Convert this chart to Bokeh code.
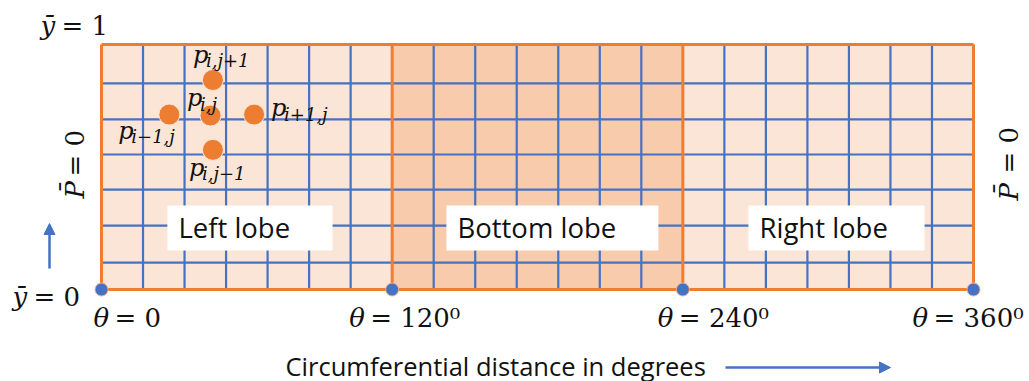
import numpy as np
from bokeh.plotting import figure
from bokeh.models import Arrow, NormalHead
from bokeh.core.properties import value
from bokeh.embed import file_html
from bokeh.resources import INLINE

# ---------------- data ----------------
lobe_names = ["Left lobe", "Bottom lobe", "Right lobe"]
lobe_start = [0, 120, 240]
lobe_end = [120, 240, 360]
cells_per_lobe = 7
row_lines = [0.11, 0.261, 0.408, 0.551, 0.694, 0.841]
theta_ticks = [0, 120, 240, 360]
theta_rest = ["= 0", "= 120\u2070", "= 240\u2070", "= 360\u2070"]
stencil_sub = ["i\u22121,j", "i,j", "i+1,j", "i,j+1", "i,j\u22121"]
stencil_theta = [28, 45, 63, 46, 46]
stencil_y = [0.714, 0.71, 0.714, 0.855, 0.57]
ybar_values = [1, 0]
axis_title = "Circumferential distance in degrees"

# ---------------- layout / styles ----------------
W, H = 1029, 381
PXX = 872 / 360.0      # px per degree
PXY = 245.0            # px per unit of y-bar
OX, OY = 101, 289      # canvas px of (theta=0, ybar=0)

def X(cx):
    return (cx - OX) / PXX

def Y(cy):
    return (OY - cy) / PXY

ORANGE = "#ED7D31"
BLUE = "#4472C4"
LIGHT = "#FBE5D6"
MID = "#F8CBAD"
INK = "#111111"
lobe_fill = [LIGHT, MID, LIGHT]
SERIF = value("DejaVu Serif")
SANS = value("Open Sans")

p = figure(width=W, height=H, output_backend="svg", toolbar_location=None,
           x_range=(X(0), X(W)), y_range=(Y(H), Y(0)),
           min_border=0, outline_line_color=None)
p.xaxis.visible = False
p.yaxis.visible = False
p.grid.visible = False
p.background_fill_color = "white"
p.border_fill_color = "white"

# lobe fills
p.quad(left=lobe_start, right=lobe_end, bottom=0, top=1, fill_color=lobe_fill, line_color=None)

# blue grid
vx = []
for s, e in zip(lobe_start, lobe_end):
    for k in range(1, cells_per_lobe):
        vx.append(s + k * (e - s) / cells_per_lobe)
p.segment(x0=vx, y0=[0] * len(vx), x1=vx, y1=[1] * len(vx), line_color=BLUE, line_width=2.2)
p.segment(x0=[0] * len(row_lines), y0=row_lines, x1=[360] * len(row_lines), y1=row_lines,
          line_color=BLUE, line_width=2.2)

# orange borders
p.segment(x0=theta_ticks, y0=[0] * 4, x1=theta_ticks, y1=[1] * 4, line_color=ORANGE, line_width=3)
p.segment(x0=[0, 0], y0=[0, 1], x1=[360, 360], y1=[0, 1], line_color=ORANGE, line_width=3)

# lobe label boxes
box_dx = [27.2, 22.4, 27.1]
box_w = [68.2, 87.5, 72.7]
bl = [s + d for s, d in zip(lobe_start, box_dx)]
br = [l + w for l, w in zip(bl, box_w)]
p.quad(left=bl, right=br, bottom=Y(250), top=Y(205), fill_color="white", line_color=None)
p.text(x=[l + 11 / PXX for l in bl], y=[Y(227)] * 3, text=lobe_names,
       text_font=SANS, text_font_size="27.5px", text_color=INK,
       text_baseline="middle", text_align="left")

# corner dots
p.scatter(x=theta_ticks, y=[0] * 4, size=13, fill_color=BLUE, line_color="#F4B183", line_width=1)

# stencil dots
p.scatter(x=stencil_theta, y=stencil_y, size=21, fill_color=ORANGE, line_color="#FBE5D6", line_width=1)

# stencil labels (offset in px from dot centre to 'p' left / middle)
lab_dx = [-51, -23.5, 17, -20, -24]
lab_dy = [16, -17.5, -6.5, -25.5, 18]
px_ = [t + dx / PXX for t, dx in zip(stencil_theta, lab_dx)]
py_ = [yv - dy / PXY for yv, dy in zip(stencil_y, lab_dy)]
p.text(x=px_, y=py_, text=["p"] * 5, text_font=SERIF, text_font_style="italic",
       text_font_size="24px", text_color=INK, text_baseline="middle")
p.text(x=[v + 13 / PXX for v in px_], y=[v - 6 / PXY for v in py_], text=stencil_sub,
       text_font=SERIF, text_font_style="italic", text_font_size="18px",
       text_color=INK, text_baseline="middle")

# theta labels
th_dx = [-8, -43, -25, -61]
th_x = [t + d / PXX for t, d in zip(theta_ticks, th_dx)]
p.text(x=th_x, y=[Y(317)] * 4, text=["\u03b8"] * 4, text_font=SERIF, text_font_style="italic",
       text_font_size="26px", text_color=INK, text_baseline="middle")
p.text(x=[v + 21 / PXX for v in th_x], y=[Y(317)] * 4, text=theta_rest, text_font=SERIF,
       text_font_size="26px", text_color=INK, text_baseline="middle")

# y-bar labels
yb_x = [X(40), X(12)]
yb_y = [Y(25), Y(296)]
p.text(x=yb_x, y=yb_y, text=["\u0233", "\u0233"], text_font=SERIF, text_font_style="italic",
       text_font_size="26px", text_color=INK, text_baseline="middle")
p.text(x=[v + 21 / PXX for v in yb_x], y=yb_y, text=["= %d" % v for v in ybar_values],
       text_font=SERIF, text_font_size="26px", text_color=INK, text_baseline="middle")

# P-bar = 0 rotated labels
pb_x = [X(74), X(1008)]
p.text(x=pb_x, y=[Y(198), Y(200)], text=["P\u0304"] * 2, angle=np.pi / 2, text_font=SERIF,
       text_font_style="italic", text_font_size="26px", text_color=INK,
       text_baseline="middle", text_align="left")
p.text(x=pb_x, y=[Y(176), Y(173)], text=["= 0"] * 2, angle=np.pi / 2, text_font=SERIF,
       text_font_size="26px", text_color=INK, text_baseline="middle", text_align="left")

# axis title
p.text(x=[X(285)], y=[Y(365)], text=[axis_title], text_font=SANS, text_font_size="25.5px",
       text_color=INK, text_baseline="middle")

# arrows
p.add_layout(Arrow(end=NormalHead(size=11, fill_color=BLUE, line_color=BLUE),
                   x_start=X(49), y_start=Y(268), x_end=X(49), y_end=Y(223),
                   line_color=BLUE, line_width=2.5))
p.add_layout(Arrow(end=NormalHead(size=11, fill_color=BLUE, line_color=BLUE),
                   x_start=X(725), y_start=Y(367), x_end=X(890), y_end=Y(367),
                   line_color=BLUE, line_width=2.5))

open("out.html", "w").write(file_html(p, INLINE))
